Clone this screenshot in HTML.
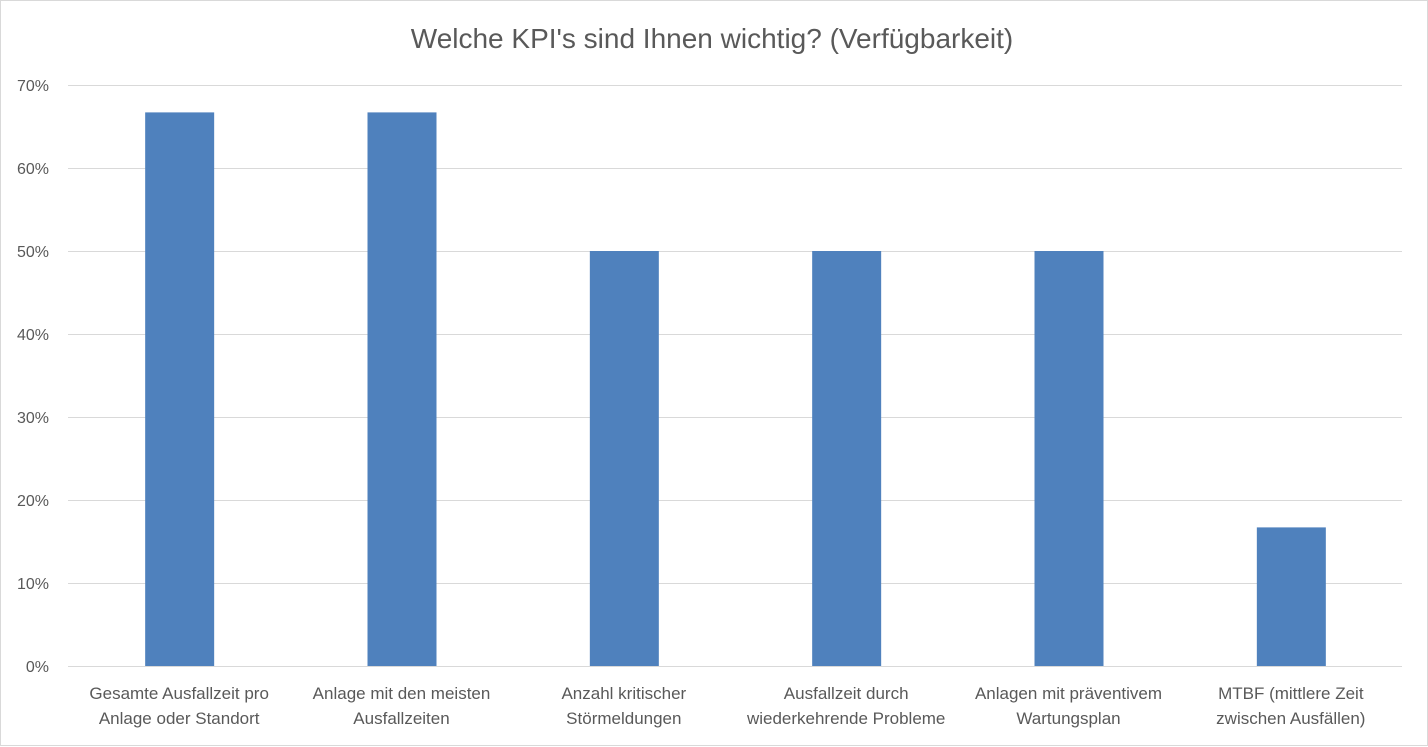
<!DOCTYPE html>
<html><head><meta charset="utf-8"><style>
body{margin:0;background:#fff;}
svg{display:block;font-family:"Liberation Sans",sans-serif;}
</style></head><body>
<svg id="c" width="1428" height="747">
<rect x="0.5" y="0.5" width="1427" height="745" fill="#fff" stroke="#d9d9d9"/>
<text x="712" y="48" text-anchor="middle" font-size="28" fill="#595959">Welche KPI's sind Ihnen wichtig? (Verfügbarkeit)</text>
<g id="grid"></g><g id="bars"></g><g id="labels"></g>
</svg>
<script>
const categories=[["Gesamte Ausfallzeit pro","Anlage oder Standort"],["Anlage mit den meisten","Ausfallzeiten"],["Anzahl kritischer","Störmeldungen"],["Ausfallzeit durch","wiederkehrende Probleme"],["Anlagen mit präventivem","Wartungsplan"],["MTBF (mittlere Zeit","zwischen Ausfällen)"]];
const values=[66.7,66.7,50,50,50,16.7];
const ticks=[0,10,20,30,40,50,60,70];
const tickLabels=["0%","10%","20%","30%","40%","50%","60%","70%"];
const ns="http://www.w3.org/2000/svg";
const x0=68,x1=1402,yb=666,yt=85,ymax=70;
const y=v=>yb-(v/ymax)*(yb-yt);
const band=(x1-x0)/categories.length;
const xc=i=>x0+band*(i+0.5);
function mk(t,a,p){const e=document.createElementNS(ns,t);for(const k in a)e.setAttribute(k,a[k]);p.appendChild(e);return e;}
const g=document.getElementById('grid'),b=document.getElementById('bars'),l=document.getElementById('labels');
ticks.forEach((t,i)=>{
 const ln=mk('line',{x1:x0,x2:x1,y1:y(t)+0.5,y2:y(t)+0.5,stroke:'#d9d9d9','stroke-width':1},g);
 
 
 const tx=mk('text',{x:49,y:y(t)+6,'text-anchor':'end','font-size':16,fill:'#595959'},g);
 tx.textContent=tickLabels[i];
 
 
});
values.forEach((v,i)=>{
 const r=mk('rect',{x:xc(i)-34,y:y(v),width:69,height:yb-y(v),fill:'#4f81bd'},b);
 
 
 categories[i].forEach((s,j)=>{
  const tx=mk('text',{x:xc(i),y:699+j*25,'text-anchor':'middle','font-size':17,fill:'#595959'},l);
  tx.textContent=s;
  
  
 });
});
</script>
</body></html>
